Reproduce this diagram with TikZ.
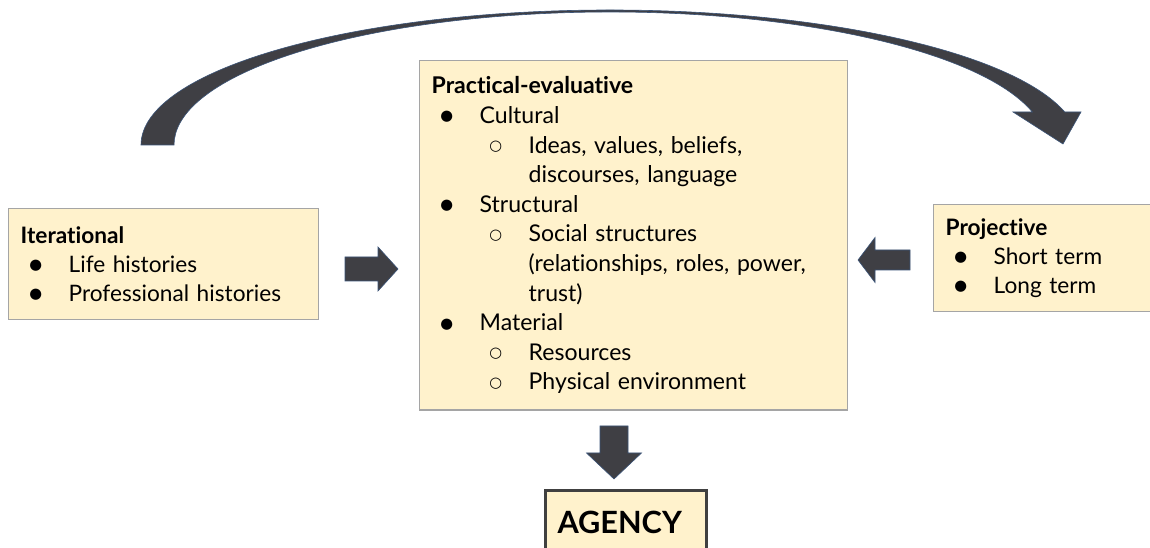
\documentclass[tikz,border=0pt]{standalone}
\usepackage{fontspec}
\setmainfont{Lato}[Ligatures=NoCommon]
\newfontfamily\symfont{DejaVu Sans}
\usetikzlibrary{calc}

\definecolor{boxfill}{HTML}{FFF2CC}
\definecolor{boxline}{HTML}{A5A5A5}
\definecolor{arrowfill}{HTML}{3F3F44}
\definecolor{arrowedge}{HTML}{3B5478}
\definecolor{agencyline}{HTML}{404040}

% list markers: a filled disc for the first level, a ring for the second
\newcommand\dotbul{\makebox[0pt]{\raisebox{2pt}{\symfont\fontsize{11}{11}\selectfont ●}}}
\newcommand\ringbul{\makebox[0pt]{\raisebox{2pt}{\symfont\fontsize{11}{11}\selectfont ○}}}
\newcommand\itemA[1]{\hspace*{11.25pt}\dotbul\hspace*{24.75pt}#1}
\newcommand\itemB[1]{\hspace*{48pt}\ringbul\hspace*{24.75pt}#1}
\newcommand\itemC[1]{\hspace*{72.75pt}#1}

\tikzset{
  card/.style={draw=boxline, line width=1pt, fill=boxfill, anchor=north west,
    align=left, inner xsep=9pt},
  maintext/.style={font=\fontsize{17.3}{22.2}\selectfont},
  sidetext/.style={font=\fontsize{17}{21.5}\selectfont},
  blockarrow/.style={fill=arrowfill, draw=arrowedge, line width=0.45pt, line join=miter},
}

\begin{document}
\begin{tikzpicture}[x=0.75pt, y=-0.75pt]
  \useasboundingbox (0,0) rectangle (1150,548);
  \clip (0,0) rectangle (1150,548);
  \fill[white] (0,0) rectangle (1150,548);

  % the three source boxes
  \node[card, maintext, text width=303pt, inner ysep=12.1pt] (pe) at (419,60)
    {\textbf{Practical-evaluative}\\
     \itemA{Cultural}\\
     \itemB{Ideas, values, beliefs,}\\
     \itemC{discourses, language}\\
     \itemA{Structural}\\
     \itemB{Social structures}\\
     \itemC{(relationships, roles, power,}\\
     \itemC{trust)}\\
     \itemA{Material}\\
     \itemB{Resources}\\
     \itemB{Physical environment}};

  \node[card, sidetext, text width=214.5pt, inner ysep=13.8pt] (iter) at (8,208)
    {\textbf{Iterational}\\
     \itemA{Life histories}\\
     \itemA{Professional histories}};

  \node[card, sidetext, text width=180pt, inner ysep=10.8pt] (proj) at (933,204)
    {\textbf{Projective}\\
     \itemA{Short term}\\
     \itemA{Long term}};

  % outcome box, running off the lower edge
  \node[draw=agencyline, line width=2.25pt, fill=boxfill, anchor=north west,
        align=left, text width=102.75pt, inner xsep=9pt, inner ysep=15.75pt,
        text height=16.5pt, text depth=45pt,
        font=\fontsize{23}{27}\selectfont\bfseries] (agency) at (544,489) {AGENCY};

  % block arrows between the boxes
  \coordinate (iterToPe) at (371.5,269);
  \coordinate (projToPe) at (884,260);
  \coordinate (peToAgency) at (614,452.5);

  \begin{scope}[shift={(iterToPe)}]
    \path[blockarrow] (-26.5,-12) -- (6.5,-12) -- (6.5,-22) -- (26.5,0)
      -- (6.5,22) -- (6.5,12) -- (-26.5,12) -- cycle;
  \end{scope}
  \begin{scope}[shift={(projToPe)}]
    \path[blockarrow] (26,-10) -- (-9,-10) -- (-9,-22.5) -- (-26,0)
      -- (-9,22.5) -- (-9,10) -- (26,10) -- cycle;
  \end{scope}
  \begin{scope}[shift={(peToAgency)}]
    \path[blockarrow] (-14,-26.5) -- (-14,0.5) -- (-27.5,0.5) -- (0,26.5)
      -- (27.5,0.5) -- (14,0.5) -- (14,-26.5) -- cycle;
  \end{scope}

  % curved arrow from the iterational side over to the projective side
  \path[blockarrow] (141,145)
    arc[start angle=180, end angle=345.85, x radius=469, y radius=135]
    -- (1081,112) -- (1063,144) -- (1013,112) -- (1032.36,112)
    arc[start angle=345.63, end angle=180, x radius=436, y radius=133]
    -- cycle;
\end{tikzpicture}
\end{document}
